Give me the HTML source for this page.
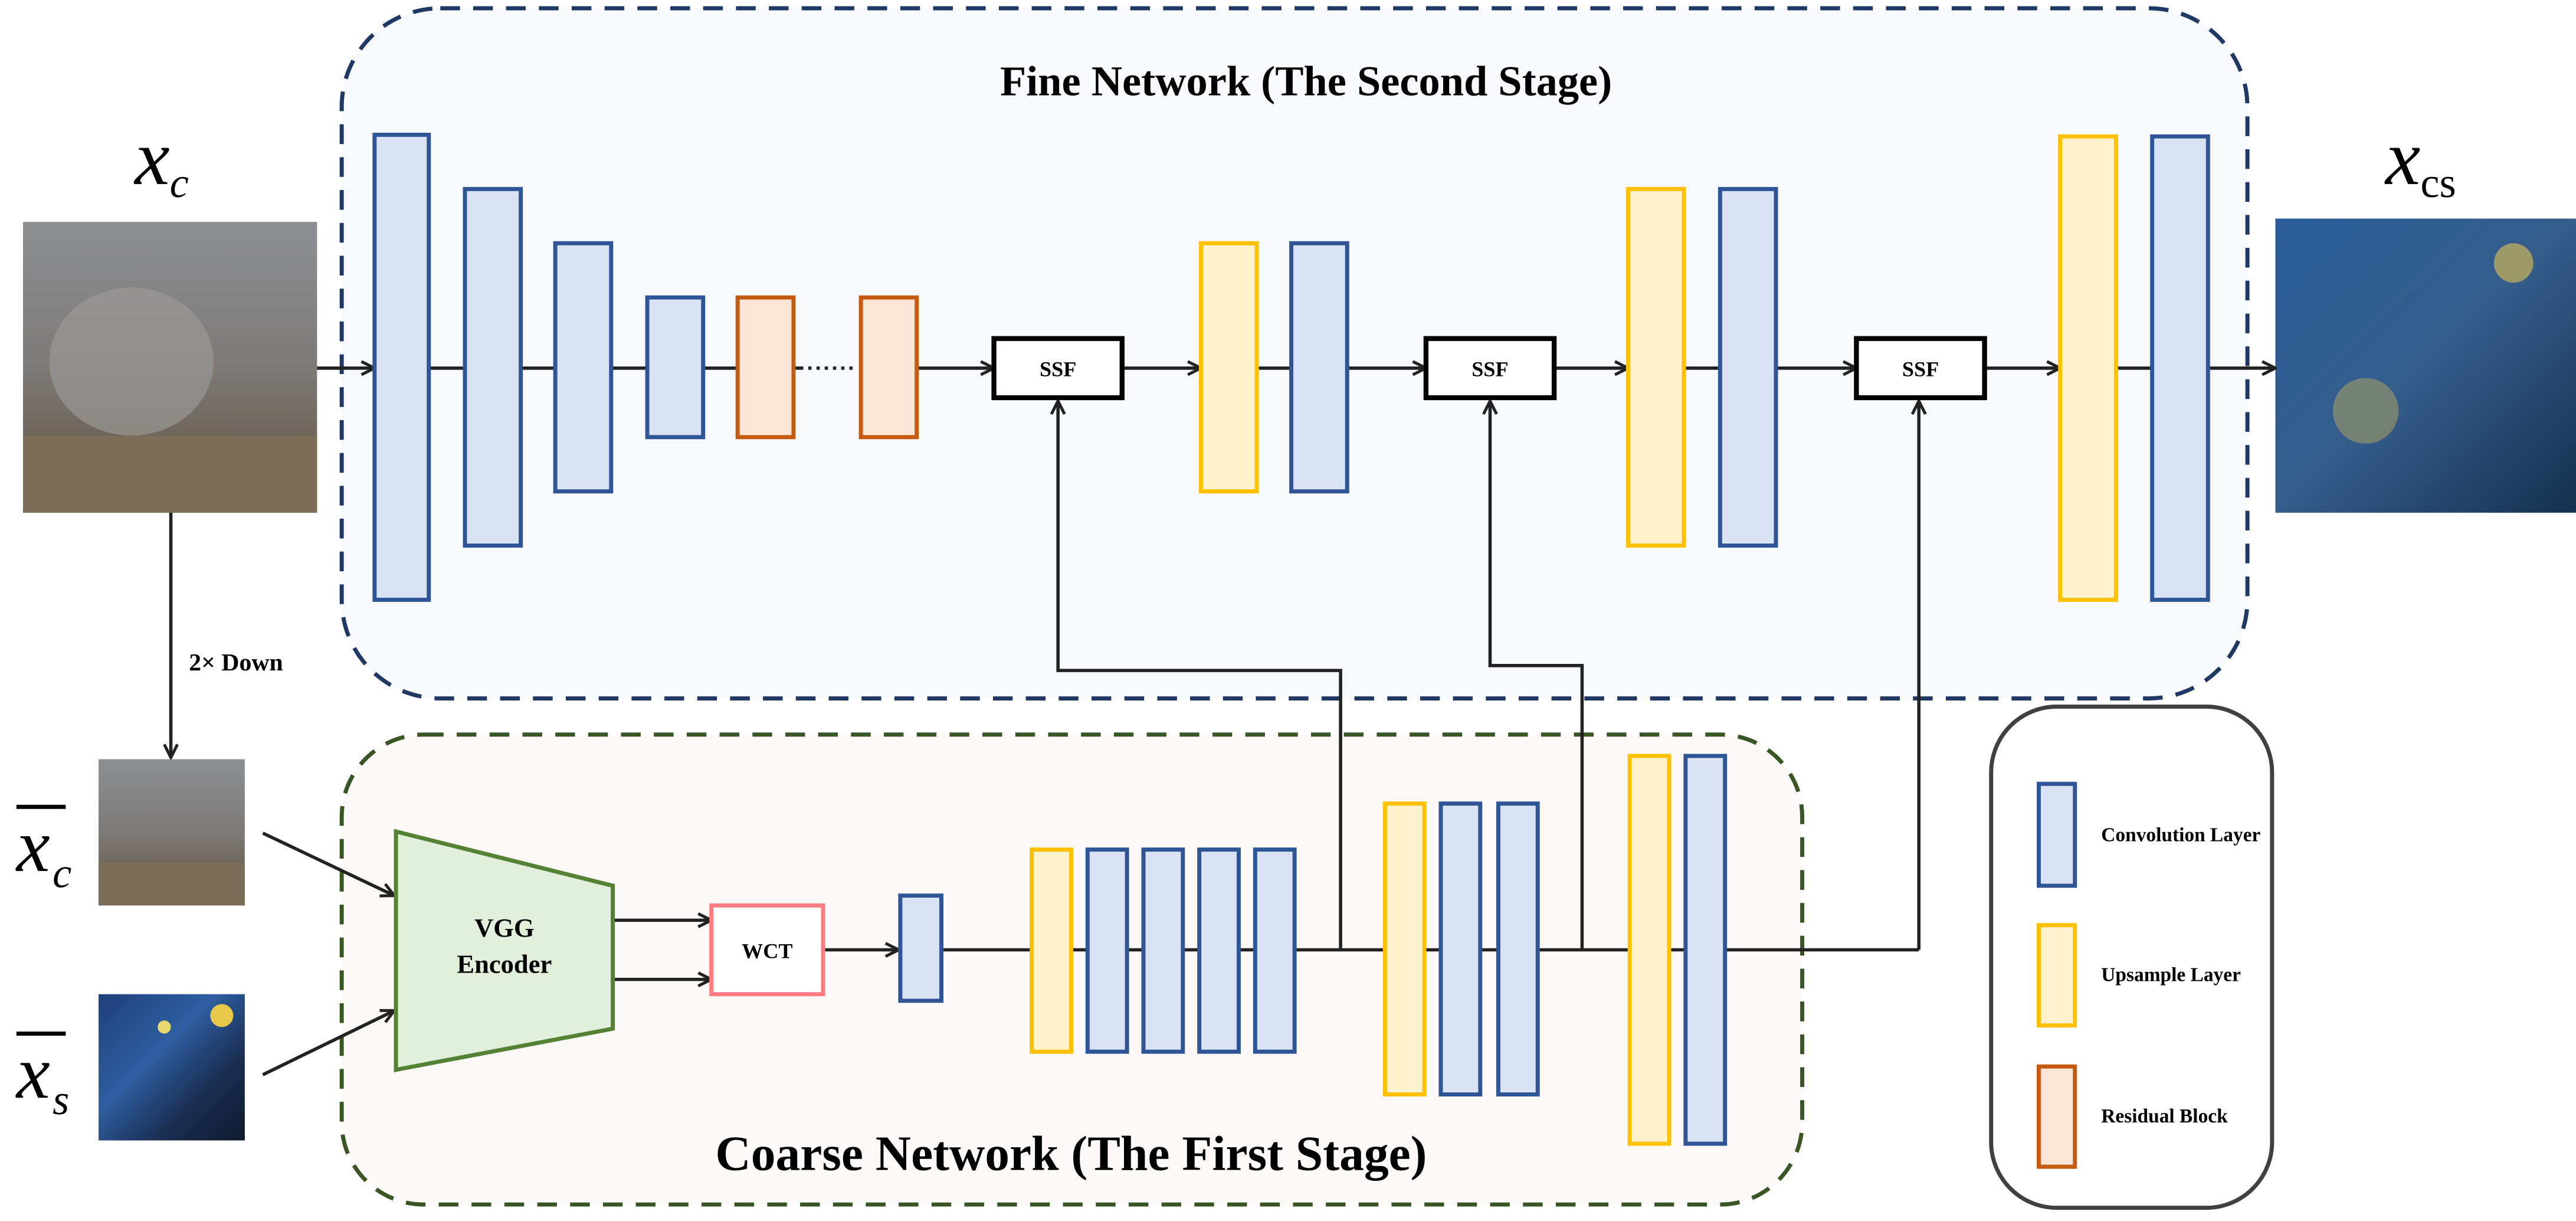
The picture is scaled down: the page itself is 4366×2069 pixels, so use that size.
<!DOCTYPE html>
<html><head><meta charset="utf-8"><style>html,body{margin:0;padding:0;background:#fff}svg{display:block}</style></head>
<body>
<svg width="4366" height="2069" viewBox="0 0 1568 743" xmlns="http://www.w3.org/2000/svg" font-family="Liberation Serif, serif">
<defs>
<marker id="a" markerWidth="10" markerHeight="10" refX="9" refY="5" orient="auto" markerUnits="userSpaceOnUse"><path d="M1,1 L9,5 L1,9" fill="none" stroke="#222" stroke-width="1.8"/></marker>
<linearGradient id="cat" x1="0" y1="0" x2="0" y2="1"><stop offset="0" stop-color="#8d8f93"/><stop offset="0.5" stop-color="#7d7a78"/><stop offset="0.75" stop-color="#6e655a"/><stop offset="1" stop-color="#857a6b"/></linearGradient>
<linearGradient id="sty" x1="0" y1="0" x2="1" y2="1"><stop offset="0" stop-color="#1f3f7a"/><stop offset="0.4" stop-color="#2f5ea0"/><stop offset="0.7" stop-color="#1b2e52"/><stop offset="1" stop-color="#0e1a2e"/></linearGradient>
<linearGradient id="out" x1="0" y1="0" x2="1" y2="1"><stop offset="0" stop-color="#2a5d9a"/><stop offset="0.5" stop-color="#345d8a"/><stop offset="1" stop-color="#16304f"/></linearGradient>
</defs>
<!-- Fine box -->
<rect x="208" y="5" width="1160" height="420" rx="60" fill="#f7f9fd" stroke="#1f3864" stroke-width="2.5" stroke-dasharray="12,8"/>
<text x="795" y="58" font-size="26" font-weight="bold" text-anchor="middle">Fine Network (The Second Stage)</text>
<!-- Coarse box -->
<rect x="208" y="447" width="889" height="286" rx="50" fill="#fdf9f8" stroke="#375623" stroke-width="2.5" stroke-dasharray="12,8"/>
<text x="652" y="712" font-size="30" font-weight="bold" text-anchor="middle">Coarse Network (The First Stage)</text>
<!-- legend box -->
<rect x="1212" y="430" width="171" height="305" rx="40" fill="#fff" stroke="#404040" stroke-width="2.5"/>
<!-- labels -->
<text x="82" y="112" font-size="48" font-style="italic">x<tspan font-size="26" dy="8">c</tspan></text>
<text x="1452" y="112" font-size="48" font-style="italic">x<tspan font-size="26" dy="8" font-style="normal">cs</tspan></text>
<text x="10" y="530" font-size="46" font-style="italic">x</text><line x1="10" y1="491" x2="40" y2="491" stroke="#000" stroke-width="2.5"/><text x="32" y="540" font-size="26" font-style="italic">c</text>
<text x="10" y="668" font-size="46" font-style="italic">x</text><line x1="10" y1="629" x2="40" y2="629" stroke="#000" stroke-width="2.5"/><text x="32" y="678" font-size="26" font-style="italic">s</text>
<!-- images -->
<rect x="14" y="135" width="179" height="177" fill="url(#cat)"/>
<ellipse cx="80" cy="220" rx="50" ry="45" fill="#9a9897" opacity="0.7"/>
<rect x="14" y="265" width="179" height="47" fill="#7b6d58"/>
<rect x="60" y="462" width="89" height="89" fill="url(#cat)"/>
<rect x="60" y="525" width="89" height="26" fill="#7b6d58"/>
<rect x="60" y="605" width="89" height="89" fill="url(#sty)"/>
<circle cx="135" cy="618" r="7" fill="#e8c84a"/><circle cx="100" cy="625" r="4" fill="#e8d870"/>
<rect x="1385" y="133" width="183" height="179" fill="url(#out)"/>
<circle cx="1530" cy="160" r="12" fill="#c9b35a" opacity="0.7"/><circle cx="1440" cy="250" r="20" fill="#b7a760" opacity="0.5"/>
<!-- main line -->
<g stroke="#222" stroke-width="2" fill="none">
<line x1="193" y1="224" x2="228" y2="224" marker-end="url(#a)"/>
<line x1="261" y1="224" x2="449" y2="224"/>
<line x1="483" y1="224" x2="487" y2="224"/>
<line x1="487" y1="224" x2="520" y2="224" stroke-dasharray="2,3"/>
<line x1="558" y1="224" x2="605" y2="224" marker-end="url(#a)"/>
<line x1="683" y1="224" x2="731" y2="224" marker-end="url(#a)"/>
<line x1="765" y1="224" x2="786" y2="224"/>
<line x1="820" y1="224" x2="868" y2="224" marker-end="url(#a)"/>
<line x1="946" y1="224" x2="991" y2="224" marker-end="url(#a)"/>
<line x1="1025" y1="224" x2="1047" y2="224"/>
<line x1="1081" y1="224" x2="1130" y2="224" marker-end="url(#a)"/>
<line x1="1208" y1="224" x2="1254" y2="224" marker-end="url(#a)"/>
<line x1="1288" y1="224" x2="1310" y2="224"/>
<line x1="1344" y1="224" x2="1385" y2="224" marker-end="url(#a)"/>
<line x1="104" y1="312" x2="104" y2="461" marker-end="url(#a)"/>
<line x1="160" y1="507" x2="240" y2="545" marker-end="url(#a)"/>
<line x1="160" y1="654" x2="240" y2="615" marker-end="url(#a)"/>
<line x1="373" y1="560" x2="433" y2="560" marker-end="url(#a)"/>
<line x1="373" y1="596" x2="433" y2="596" marker-end="url(#a)"/>
<line x1="501" y1="578" x2="547" y2="578" marker-end="url(#a)"/>
<line x1="573" y1="578" x2="1168" y2="578"/>
<polyline points="816,578 816,408 644,408 644,244" marker-end="url(#a)"/>
<polyline points="963,578 963,405 907,405 907,244" marker-end="url(#a)"/>
<polyline points="1168,578 1168,244" marker-end="url(#a)"/>
</g>
<text x="115" y="408" font-size="15" font-weight="bold">2× Down</text>
<!-- blocks -->
<g stroke-width="2.5">
<g fill="#dae3f3" stroke="#2f5597">
<rect x="228" y="82" width="33" height="283"/><rect x="283" y="115" width="34" height="217"/><rect x="338" y="148" width="34" height="151"/><rect x="394" y="181" width="34" height="85"/>
<rect x="786" y="148" width="34" height="151"/><rect x="1047" y="115" width="34" height="217"/><rect x="1310" y="83" width="34" height="282"/>
<rect x="548" y="545" width="25" height="64"/>
<rect x="662" y="517" width="24" height="123"/><rect x="696" y="517" width="24" height="123"/><rect x="730" y="517" width="24" height="123"/><rect x="764" y="517" width="24" height="123"/>
<rect x="877" y="489" width="24" height="177"/><rect x="912" y="489" width="24" height="177"/><rect x="1026" y="460" width="24" height="236"/>
<rect x="1241" y="477" width="22" height="62"/>
</g>
<g fill="#fbe5d6" stroke="#c55a11"><rect x="449" y="181" width="34" height="85"/><rect x="524" y="181" width="34" height="85"/><rect x="1241" y="649" width="22" height="61"/></g>
<g fill="#fff2cc" stroke="#ffc000"><rect x="731" y="148" width="34" height="151"/><rect x="991" y="115" width="34" height="217"/><rect x="1254" y="83" width="34" height="282"/>
<rect x="628" y="517" width="24" height="123"/><rect x="843" y="489" width="24" height="177"/><rect x="992" y="460" width="24" height="236"/><rect x="1241" y="563" width="22" height="61"/></g>
<g fill="#fff" stroke="#000" stroke-width="3"><rect x="605" y="206" width="78" height="36"/><rect x="868" y="206" width="78" height="36"/><rect x="1130" y="206" width="78" height="36"/></g>
<rect x="433" y="551" width="68" height="54" fill="#fff" stroke="#ff7c80"/>
<polygon points="241,506 373,539 373,626 241,651" fill="#e2efda" stroke="#548235"/>
</g>
<g font-size="13" font-weight="bold" text-anchor="middle"><text x="644" y="229">SSF</text><text x="907" y="229">SSF</text><text x="1169" y="229">SSF</text><text x="467" y="583">WCT</text></g>
<g font-size="16" font-weight="bold" text-anchor="middle"><text x="307" y="570">VGG</text><text x="307" y="592">Encoder</text></g>
<g font-size="12" font-weight="bold"><text x="1279" y="512">Convolution Layer</text><text x="1279" y="597">Upsample Layer</text><text x="1279" y="683">Residual Block</text></g>
</svg>
</body></html>
